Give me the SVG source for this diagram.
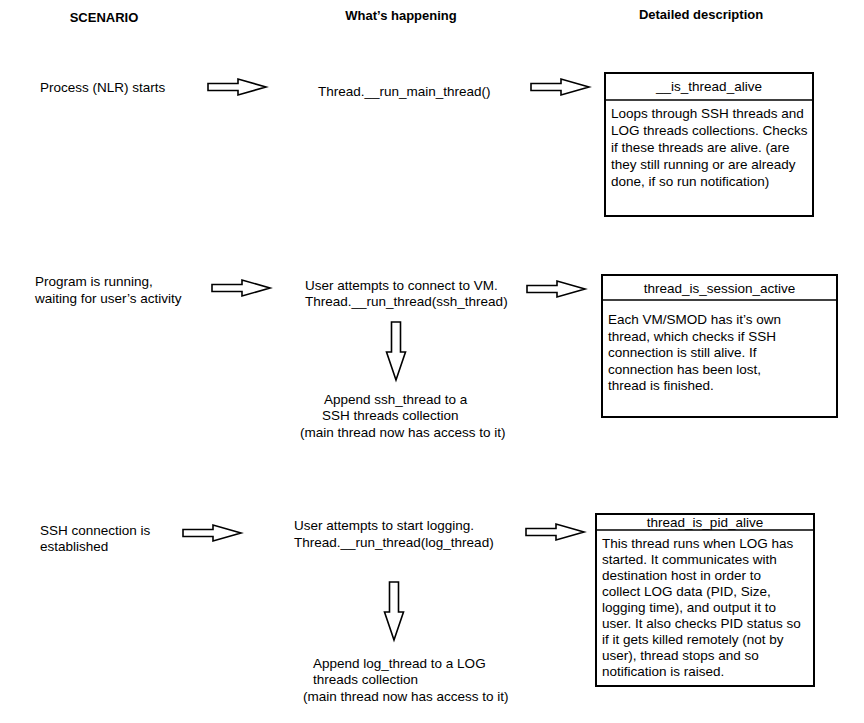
<svg xmlns="http://www.w3.org/2000/svg" xmlns:xlink="http://www.w3.org/1999/xlink" width="864" height="723" viewBox="0 0 864 723">
  <style>
    text { font-family: "Liberation Sans", Arial, sans-serif; fill: #000; }
    .hdr { font-size: 13px; font-weight: bold; text-anchor: middle; }
    .t { font-size: 13.5px; }
    .c { text-anchor: middle; }
    .box { fill: #fff; stroke: #000; stroke-width: 2; }
    .div { stroke: #000; stroke-width: 1.6; }
    .arr { fill: #fff; stroke: #000; stroke-width: 1.6; stroke-linejoin: miter; }
  </style>
  <defs>
    <!-- hollow block arrow pointing right, origin at shaft start / centre line -->
    <path id="arrowR" class="arr" d="M0,-3.5 H30 V-8 L58,0 L30,8 V3.5 H0 Z"/>
    <!-- hollow block arrow pointing down, origin at shaft top / centre line -->
    <path id="arrowD" class="arr" d="M-4.5,0 H4.5 V30 H9.5 L0,58 L-9.5,30 H-4.5 Z"/>
  </defs>

  <rect width="864" height="723" fill="#fff"/>

  <!-- column headers -->
  <g id="headers">
    <text class="hdr" x="104" y="22">SCENARIO</text>
    <text class="hdr" x="401" y="20">What’s happening</text>
    <text class="hdr" x="701" y="19">Detailed description</text>
  </g>

  <!-- row 1 -->
  <g id="scenario1">
    <text class="t" x="40" y="92">Process (NLR) starts</text>
  </g>
  <g id="happening1">
    <text class="t" x="318" y="96">Thread.__run_main_thread()</text>
  </g>
  <g id="detail1">
    <rect class="box" x="605" y="73" width="208" height="143"/>
    <line class="div" x1="605" y1="100" x2="813" y2="100"/>
    <text class="t c" x="709" y="91">__is_thread_alive</text>
    <text class="t" x="611">
      <tspan x="611" y="118">Loops through SSH threads and</tspan>
      <tspan x="611" y="135">LOG threads collections. Checks</tspan>
      <tspan x="611" y="152">if these threads are alive. (are</tspan>
      <tspan x="611" y="169">they still running or are already</tspan>
      <tspan x="611" y="186">done, if so run notification)</tspan>
    </text>
  </g>

  <!-- row 2 -->
  <g id="scenario2">
    <text class="t" x="35" y="286">Program is running,</text>
    <text class="t" x="35" y="303">waiting for user’s activity</text>
  </g>
  <g id="happening2">
    <text class="t" x="305" y="290">User attempts to connect to VM.</text>
    <text class="t" x="305" y="306">Thread.__run_thread(ssh_thread)</text>
  </g>
  <g id="append2">
    <text class="t" x="324" y="404">Append ssh_thread to a</text>
    <text class="t" x="322" y="420">SSH threads collection</text>
    <text class="t" x="300" y="437">(main thread now has access to it)</text>
  </g>
  <g id="detail2">
    <rect class="box" x="602" y="275" width="235" height="142"/>
    <line class="div" x1="602" y1="300" x2="837" y2="300"/>
    <text class="t c" x="719.5" y="293">thread_is_session_active</text>
    <text class="t">
      <tspan x="608" y="324">Each VM/SMOD has it’s own</tspan>
      <tspan x="608" y="341">thread, which checks if SSH</tspan>
      <tspan x="608" y="357">connection is still alive. If</tspan>
      <tspan x="608" y="374">connection has been lost,</tspan>
      <tspan x="608" y="390">thread is finished.</tspan>
    </text>
  </g>

  <!-- row 3 -->
  <g id="scenario3">
    <text class="t" x="40" y="535">SSH connection is</text>
    <text class="t" x="40" y="551">established</text>
  </g>
  <g id="happening3">
    <text class="t" x="294" y="530">User attempts to start logging.</text>
    <text class="t" x="294" y="547">Thread.__run_thread(log_thread)</text>
  </g>
  <g id="append3">
    <text class="t" x="313" y="668">Append log_thread to a LOG</text>
    <text class="t" x="313" y="684">threads collection</text>
    <text class="t" x="303" y="701">(main thread now has access to it)</text>
  </g>
  <g id="detail3">
    <rect class="box" x="596" y="514" width="218" height="172"/>
    <line class="div" x1="596" y1="530" x2="814" y2="530"/>
    <text class="t c" x="705" y="527">thread_is_pid_alive</text>
    <text class="t">
      <tspan x="602" y="548">This thread runs when LOG has</tspan>
      <tspan x="602" y="564">started. It communicates with</tspan>
      <tspan x="602" y="580">destination host in order to</tspan>
      <tspan x="602" y="596">collect LOG data (PID, Size,</tspan>
      <tspan x="602" y="612">logging time), and output it to</tspan>
      <tspan x="602" y="628">user. It also checks PID status so</tspan>
      <tspan x="602" y="644">if it gets killed remotely (not by</tspan>
      <tspan x="602" y="660">user), thread stops and so</tspan>
      <tspan x="602" y="676">notification is raised.</tspan>
    </text>
  </g>

  <!-- connectors -->
  <g id="connectors">
    <use xlink:href="#arrowR" transform="translate(208,87)"/>
    <use xlink:href="#arrowR" transform="translate(531,87)"/>
    <use xlink:href="#arrowR" transform="translate(212,288)"/>
    <use xlink:href="#arrowR" transform="translate(527,289)"/>
    <use xlink:href="#arrowD" transform="translate(396,322)"/>
    <use xlink:href="#arrowR" transform="translate(183,533)"/>
    <use xlink:href="#arrowR" transform="translate(526,532)"/>
    <use xlink:href="#arrowD" transform="translate(394,582)"/>
  </g>
</svg>
